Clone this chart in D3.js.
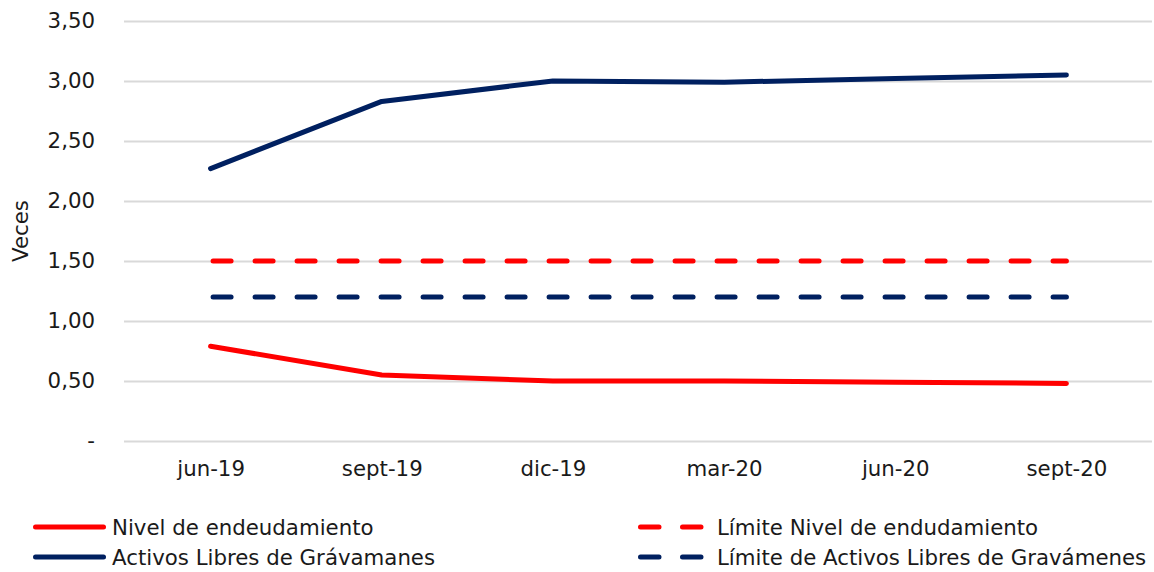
<!DOCTYPE html>
<html>
<head>
<meta charset="utf-8">
<script src="https://cdn.jsdelivr.net/npm/d3@7"></script>
<style>
  html, body { margin: 0; padding: 0; background: #fff; }
  svg { display: block; font-family: "DejaVu Sans", Verdana, sans-serif; }
</style>
</head>
<body>
<svg id="chart" width="1154" height="572"></svg>
<script>
// Periods on the x axis
const periods = ["jun-19", "sept-19", "dic-19", "mar-20", "jun-20", "sept-20"];

// Series (veces)
const nivelEndeudamiento = [0.79, 0.55, 0.50, 0.50, 0.49, 0.48];
const activosLibres      = [2.27, 2.83, 3.00, 2.99, 3.02, 3.05];
const limiteNivel        = [1.50, 1.50, 1.50, 1.50, 1.50, 1.50];
const limiteActivos      = [1.20, 1.20, 1.20, 1.20, 1.20, 1.20];

// Y axis ticks
const yTicks = [0, 0.5, 1, 1.5, 2, 2.5, 3, 3.5];

const RED = "#ff0000";
const NAVY = "#002060";

const series = [
  { name: "Nivel de endeudamiento", values: nivelEndeudamiento, color: RED, dashed: false },
  { name: "Activos Libres de Grávamanes", values: activosLibres, color: NAVY, dashed: false },
  { name: "Límite Nivel de endudamiento", values: limiteNivel, color: RED, dashed: true },
  { name: "Límite de Activos Libres de Gravámenes", values: limiteActivos, color: NAVY, dashed: true }
];

const svg = d3.select("#chart");
const fontSize = 21.3;
const textColor = "#1a1a1a";

const plot = { left: 125, right: 1152, top: 21, bottom: 441 };

const x = d3.scalePoint()
  .domain(periods)
  .range([plot.left, plot.right])
  .padding(0.5);

const y = d3.scaleLinear()
  .domain([0, 3.5])
  .range([plot.bottom, plot.top]);

const fmt = v => v === 0 ? "-" : d3.format(".2f")(v).replace(".", ",");

// Horizontal gridlines + y labels
const yAxis = d3.axisLeft(y)
  .tickValues(yTicks)
  .tickSize(-(plot.right - plot.left + 1))
  .tickPadding(29)
  .tickFormat(fmt);

const gy = svg.append("g")
  .attr("transform", `translate(${plot.left - 1},0)`)
  .call(yAxis);
gy.select(".domain").remove();
gy.selectAll(".tick line").attr("stroke", "#d9d9d9").attr("stroke-width", 2);
gy.selectAll(".tick text")
  .attr("fill", textColor)
  .style("font-size", fontSize + "px")
  .style("font-family", "'DejaVu Sans', Verdana, sans-serif");

// X axis labels
const xAxis = d3.axisBottom(x).tickSize(0).tickPadding(20);
const gx = svg.append("g")
  .attr("transform", `translate(0,${plot.bottom})`)
  .call(xAxis);
gx.select(".domain").remove();
gx.selectAll(".tick text")
  .attr("fill", textColor)
  .style("font-size", fontSize + "px")
  .style("font-family", "'DejaVu Sans', Verdana, sans-serif");

// Y axis title
svg.append("text")
  .attr("transform", `translate(28,${(plot.top + plot.bottom) / 2}) rotate(-90)`)
  .attr("text-anchor", "middle")
  .attr("fill", textColor)
  .style("font-size", fontSize + "px")
  .text("Veces");

// Lines
const line = d3.line()
  .x((d, i) => x(periods[i]))
  .y(d => y(d));

svg.append("g").selectAll("path")
  .data(series)
  .join("path")
  .attr("d", d => line(d.values))
  .attr("fill", "none")
  .attr("stroke", d => d.color)
  .attr("stroke-width", 5)
  .attr("stroke-linecap", "round")
  .attr("stroke-linejoin", "round")
  .attr("stroke-dasharray", d => d.dashed ? "18,24" : null)
  .attr("stroke-dashoffset", d => d.dashed ? -2.5 : null);

// Legend
const legendPos = [
  { x: 33, y: 527 },
  { x: 33, y: 557 },
  { x: 638, y: 527 },
  { x: 638, y: 557 }
];

const lg = svg.append("g").selectAll("g")
  .data(series)
  .join("g")
  .attr("transform", (d, i) => `translate(${legendPos[i].x},${legendPos[i].y})`);

lg.append("line")
  .attr("x1", 2.5)
  .attr("x2", d => d.dashed ? 63 : 70.5)
  .attr("y1", 0).attr("y2", 0)
  .attr("stroke", d => d.color)
  .attr("stroke-width", 5)
  .attr("stroke-linecap", "round")
  .attr("stroke-dasharray", d => d.dashed ? "18.5,23.5" : null);

lg.append("text")
  .attr("x", 79)
  .attr("y", 7.5)
  .attr("fill", textColor)
  .style("font-size", fontSize + "px")
  .text(d => d.name);
</script>
</body>
</html>
